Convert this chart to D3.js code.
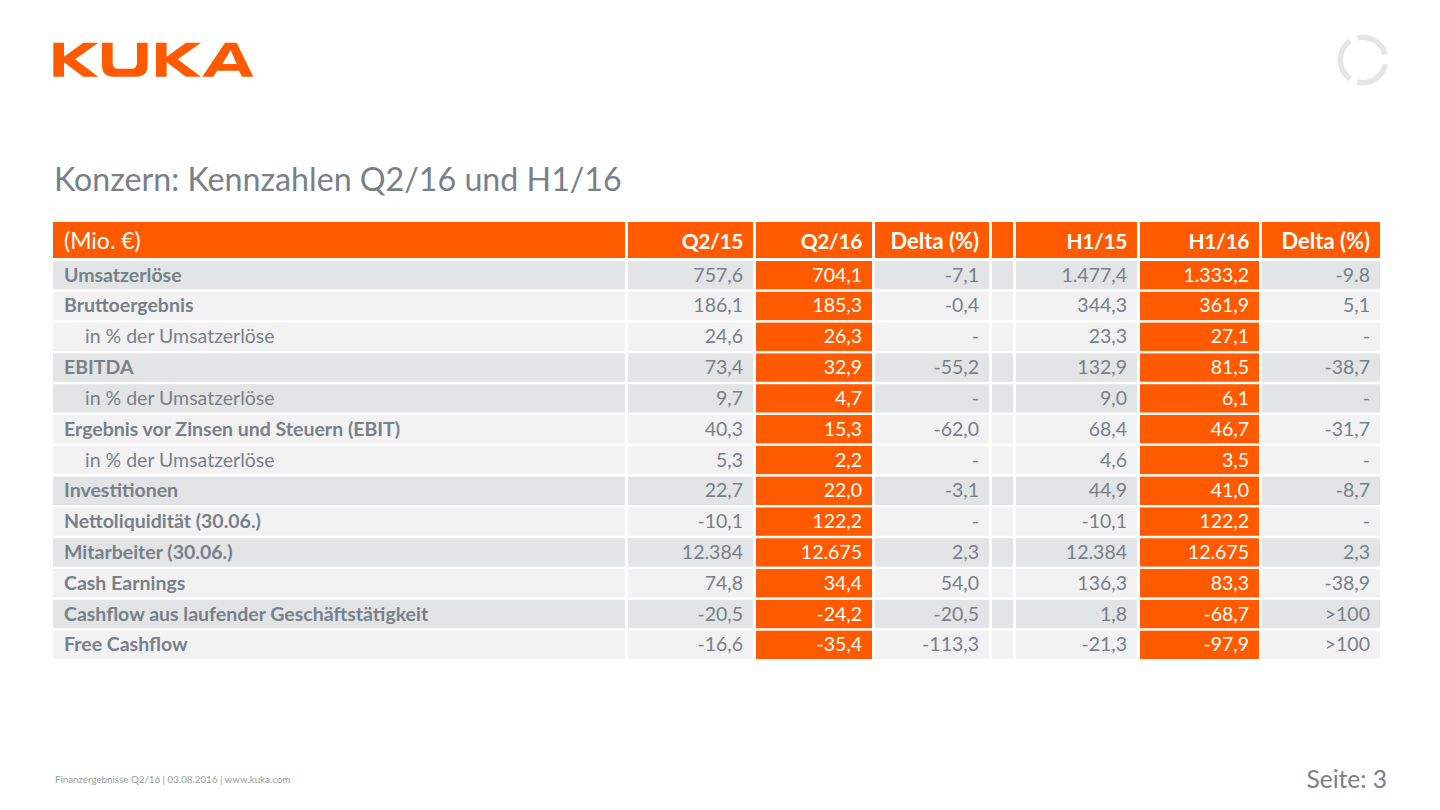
<!DOCTYPE html>
<html>
<head>
<meta charset="utf-8">
<script src="https://cdn.jsdelivr.net/npm/d3@7"></script>
<style>
html, body { margin: 0; padding: 0; background: #fff; }
svg { display: block; }
text { font-family: Lato, "Open Sans", sans-serif; }
</style>
</head>
<body>
<svg id="chart" width="1440" height="810"></svg>
<script>
const HEADERS = ["(Mio. €)", "Q2/15", "Q2/16", "Delta (%)", "", "H1/15", "H1/16", "Delta (%)"];
const ROW_LABELS = ["Umsatzerlöse", "Bruttoergebnis", "in % der Umsatzerlöse", "EBITDA", "in % der Umsatzerlöse",
    "Ergebnis vor Zinsen und Steuern (EBIT)", "in % der Umsatzerlöse", "Investitionen", "Nettoliquidität (30.06.)",
    "Mitarbeiter (30.06.)", "Cash Earnings", "Cashflow aus laufender Geschäftstätigkeit", "Free Cashflow"];
const Q2_15 = ["757,6", "186,1", "24,6", "73,4", "9,7", "40,3", "5,3", "22,7", "-10,1", "12.384", "74,8", "-20,5", "-16,6"];
const Q2_16 = ["704,1", "185,3", "26,3", "32,9", "4,7", "15,3", "2,2", "22,0", "122,2", "12.675", "34,4", "-24,2", "-35,4"];
const DELTA_Q = ["-7,1", "-0,4", "-", "-55,2", "-", "-62,0", "-", "-3,1", "-", "2,3", "54,0", "-20,5", "-113,3"];
const H1_15 = ["1.477,4", "344,3", "23,3", "132,9", "9,0", "68,4", "4,6", "44,9", "-10,1", "12.384", "136,3", "1,8", "-21,3"];
const H1_16 = ["1.333,2", "361,9", "27,1", "81,5", "6,1", "46,7", "3,5", "41,0", "122,2", "12.675", "83,3", "-68,7", "-97,9"];
const DELTA_H = ["-9.8", "5,1", "-", "-38,7", "-", "-31,7", "-", "-8,7", "-", "2,3", "-38,9", ">100", ">100"];
const COLUMNS = [ROW_LABELS, Q2_15, Q2_16, DELTA_Q, null, H1_15, H1_16, DELTA_H];

const ORANGE = "#ff5a00";
const TEXT_GREY = "#78818a";
const DARK_ROW = "#e2e4e6";
const LIGHT_ROW = "#f2f2f3";

const svg = d3.select("#chart");

// column edges, the table is not evenly split
const colLeft = d3.scaleOrdinal().domain(d3.range(8)).range([53, 628, 756, 875, 992, 1016, 1140, 1262]);
const colRight = d3.scaleOrdinal().domain(d3.range(8)).range([625, 753, 872, 989, 1013, 1137, 1259, 1380]);
const rowY = d3.scaleBand().domain(d3.range(ROW_LABELS.length)).range([261, 659]).paddingInner(0.08).paddingOuter(0);

const isIndent = (i) => ROW_LABELS[i].startsWith("in %");
const isDarkRow = (i) => [0, 3, 4, 7, 9, 11].includes(i);
const isHighlight = (c) => c === 2 || c === 6;

// logo at 3x
const logo = svg.append("g").attr("transform", "translate(40,20) scale(0.3333)").attr("fill", ORANGE);
const kShape = "M40,68H72V110L130,68H175L105,118L175,170H130L72,127V170H40Z";
logo.append("path").attr("d", kShape);
logo.append("path").attr("d", kShape).attr("transform", "translate(308,0)");
logo.append("path").attr("d", "M186,68H218V128Q218,146 236,146H273Q291,146 291,128V68H323V136Q323,170 289,170H220Q186,170 186,136Z");
logo.append("path").attr("fill-rule", "evenodd").attr("d", "M487,170L555,68H590L640,170H606L597,152H531L520,170ZM572,90L547,132H590Z");

// ring top right
const ringArc = d3.arc().innerRadius(20).outerRadius(25.5);
const ringParts = [[-14, 76], [101, 195], [214, 325]];
svg.append("g").attr("transform", "translate(1363,60)")
    .selectAll("path")
    .data(ringParts)
    .join("path")
    .attr("fill", "#e3e5e6")
    .attr("d", (d) => ringArc({ startAngle: d[0] * Math.PI / 180, endAngle: d[1] * Math.PI / 180 }));

svg.append("text")
    .attr("x", 54).attr("y", 191)
    .attr("font-size", 32.2).attr("fill", TEXT_GREY)
    .text("Konzern: Kennzahlen Q2/16 und H1/16");

// header
const header = svg.append("g");
HEADERS.forEach((h, c) => {
    header.append("rect")
        .attr("x", colLeft(c)).attr("y", 222)
        .attr("width", colRight(c) - colLeft(c)).attr("height", 36)
        .attr("fill", ORANGE);
    if (h === "") return;
    const t = header.append("text")
        .attr("x", c === 0 ? 64 : colRight(c) - 10)
        .attr("y", 249)
        .attr("text-anchor", c === 0 ? "start" : "end")
        .attr("font-size", c === 0 ? 23 : 22)
        .attr("font-weight", c === 0 ? 400 : 700)
        .attr("fill", "#fff")
        .text(h);
    // Q2/H1 labels run wide in this font
    if (h.includes("/")) t.attr("font-size", 21).attr("letter-spacing", -0.4);
});

// body
const body = svg.append("g");
ROW_LABELS.forEach((label, i) => {
    COLUMNS.forEach((col, c) => {
        const fill = isHighlight(c) ? ORANGE : (isDarkRow(i) ? DARK_ROW : LIGHT_ROW);
        body.append("rect")
            .attr("x", colLeft(c)).attr("y", rowY(i))
            .attr("width", colRight(c) - colLeft(c)).attr("height", rowY.bandwidth())
            .attr("fill", fill);
        if (!col) return;
        const t = body.append("text")
            .attr("y", rowY(i) + rowY.bandwidth() / 2 + 6.5)
            .attr("font-size", 19.5)
            .attr("fill", isHighlight(c) ? "#fff" : TEXT_GREY)
            .text(col[i]);
        if (c === 0) {
            t.attr("x", isIndent(i) ? 85 : 64).attr("font-weight", isIndent(i) ? 400 : 700);
        } else {
            t.attr("x", colRight(c) - 10).attr("text-anchor", "end");
        }
    });
});

svg.append("text")
    .attr("x", 55).attr("y", 783)
    .attr("font-size", 9.75).attr("fill", "#9a9da0")
    .text("Finanzergebnisse Q2/16 | 03.08.2016 | www.kuka.com");

svg.append("text")
    .attr("x", 1387).attr("y", 788)
    .attr("text-anchor", "end")
    .attr("font-size", 24.6).attr("fill", TEXT_GREY)
    .text("Seite: 3");
</script>
</body>
</html>
